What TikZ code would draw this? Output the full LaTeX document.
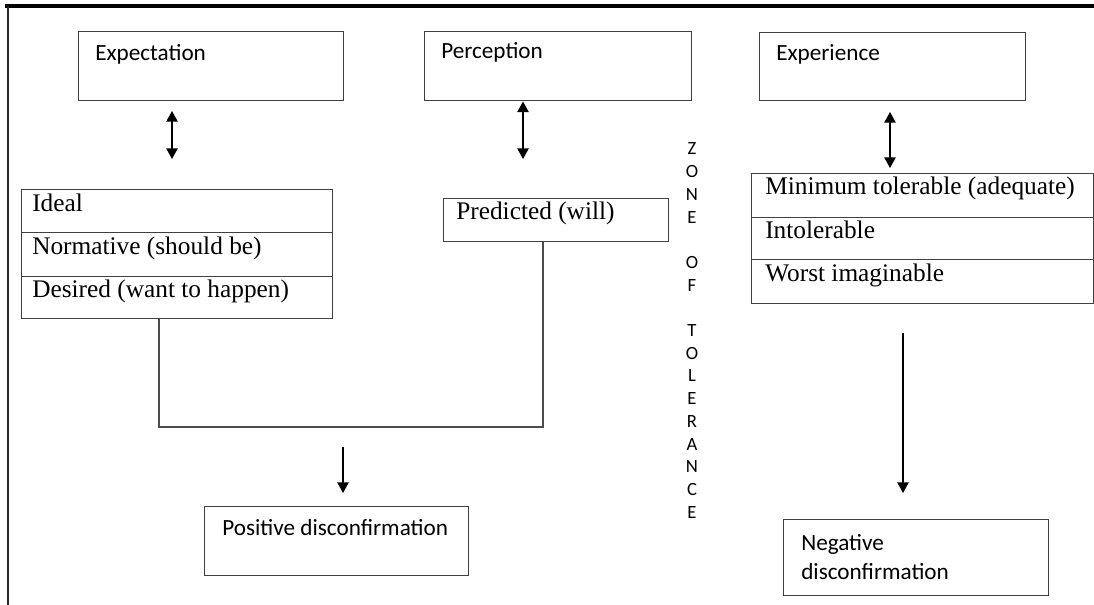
\documentclass[tikz,border=0pt]{standalone}
\usepackage{fontspec}
\setmainfont{Liberation Serif}
\newfontfamily\calfont{Carlito}
\usetikzlibrary{arrows.meta,calc}
\begin{document}
\begin{tikzpicture}[x=0.75pt,y=-0.75pt,
  box/.style={draw=black!75, line width=1.1pt, rectangle, inner sep=0pt, anchor=north west},
  sans/.style={font=\calfont\fontsize{17.4}{20}\selectfont, anchor=base west, inner sep=0pt},
  ser/.style={font=\fontsize{19}{22}\selectfont, anchor=base west, inner sep=0pt},
  zone/.style={font=\calfont\fontsize{14}{16}\selectfont, anchor=base, inner sep=0pt},
  arr/.style={-{Triangle[length=8pt,width=8.5pt]}, line width=1.1pt, draw=black},
  darr/.style={{Triangle[length=8pt,width=8.5pt]}-{Triangle[length=8pt,width=8.5pt]}, line width=1.1pt, draw=black},
  conn/.style={draw=black!70, line width=1.1pt}]
\useasboundingbox (0,0) rectangle (1094,605);
% frame
\coordinate (fa) at (5,6);
\coordinate (fb) at (1094,6);
\coordinate (fc) at (8,605);
\draw[line width=2.3pt, black] (fa) -- (fb);
\draw[line width=1.5pt, black!85] (fa -| fc) -- (fc);

% top boxes
\node[box, minimum width=198.75pt, minimum height=51.75pt] (exp) at (78,31) {};
\node[box, minimum width=200.25pt, minimum height=51.75pt] (per) at (424,31) {};
\node[box, minimum width=199.5pt, minimum height=51pt] (xpr) at (759,32) {};
\node[sans] (expT) at (95,61) {Expectation};
\node[sans] (perT) at (441,59) {Perception};
\node[sans] (xprT) at (776,61) {Experience};

% left stack
\node[box, minimum width=233.25pt, minimum height=32.25pt] (ideal) at (21,189) {};
\node[box, minimum width=233.25pt, minimum height=33pt] (norm) at (21,232) {};
\node[box, minimum width=233.25pt, minimum height=31.5pt] (des) at (21,276) {};
\node[ser] (idealT) at (32,212) {Ideal};
\node[ser] (normT) at (32,255) {Normative (should be)};
\node[ser] (desT) at (32,298) {Desired (want to happen)};

% predicted
\node[box, minimum width=168.75pt, minimum height=32.25pt] (pred) at (443,198) {};
\node[ser] (predT) at (456,220) {Predicted (will)};

% right stack
\node[box, minimum width=256.5pt, minimum height=33pt] (mint) at (751,173) {};
\node[box, minimum width=256.5pt, minimum height=31.5pt] (intol) at (751,217) {};
\node[box, minimum width=256.5pt, minimum height=33pt] (worst) at (751,259) {};
\node[ser] (mintT) at (765,195) {Minimum tolerable (adequate)};
\node[ser] (intolT) at (765,239) {Intolerable};
\node[ser] (worstT) at (765,282) {Worst imaginable};

% outcome boxes
\node[box, minimum width=198pt, minimum height=51.75pt] (pos) at (204,506) {};
\node[sans] (posT) at (222,535) {Positive disconfirmation};
\node[box, minimum width=198.75pt, minimum height=57pt] (neg) at (783,519) {};
\node[sans] (negT1) at (801,550) {Negative};
\node[sans] (negT2) at (801,579) {disconfirmation};

% zone of tolerance
\foreach \ch [count=\i from 0] in {Z,O,N,E,{},O,F,{},T,O,L,E,R,A,N,C,E}
  \node[zone] (z\i) at (692,{155+22.7*\i}) {\ch};

% double arrows
\coordinate (e1) at (172,111);
\coordinate (e2) at (172,159);
\draw[darr] (e1) -- (e2);
\coordinate (p2) at (523,159);
\draw[darr] (per.south -| p2) -- (p2);
\coordinate (x1) at (890,112);
\coordinate (x2) at (890,168);
\draw[darr] (x1) -- (x2);

% joining line
\coordinate (jl) at (159,427);
\coordinate (jr) at (543,427);
\draw[conn] (des.south -| jl) -- (jl) -- (jr) -- (pred.south -| jr);

% down arrows
\coordinate (pa1) at (343,447);
\coordinate (pa2) at (343,493);
\draw[arr] (pa1) -- (pa2);
\coordinate (na1) at (903,333);
\coordinate (na2) at (903,493);
\draw[arr] (na1) -- (na2);
\end{tikzpicture}
\end{document}
